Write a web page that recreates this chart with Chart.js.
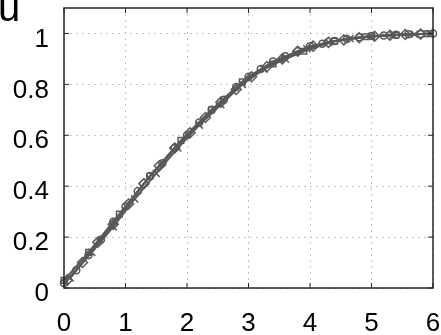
<!DOCTYPE html>
<html>
<head>
<meta charset="utf-8">
<script src="https://cdn.jsdelivr.net/npm/chart.js@4.4.1/dist/chart.umd.min.js"></script>
<style>
  html, body { margin: 0; padding: 0; background: #fff; }
  #wrap { width: 441px; height: 335px; position: relative; }
</style>
</head>
<body>
<div id="wrap"><canvas id="uChart"></canvas></div>
<script>
// series
const xCircle = [0, 0.2, 0.4, 0.6, 0.8, 1.0, 1.2, 1.4, 1.6, 1.8, 2.0, 2.2, 2.4, 2.6, 2.8, 3.0,
                 3.2, 3.4, 3.6, 3.8, 4.0, 4.2, 4.4, 4.6, 4.8, 5.0, 5.2, 5.4, 5.6, 5.8, 6.0];
const uCircle = [0.02, 0.07, 0.13, 0.19, 0.26, 0.32, 0.38, 0.44, 0.49, 0.55, 0.60, 0.65, 0.70, 0.74, 0.79, 0.83,
                 0.86, 0.89, 0.91, 0.93, 0.95, 0.96, 0.97, 0.978, 0.985, 0.99, 0.992, 0.995, 0.997, 0.998, 1.0];

const xDiamond = [0.05, 0.3, 0.55, 0.8, 1.05, 1.3, 1.55, 1.8, 2.05, 2.3, 2.55, 2.8, 3.05, 3.3,
                  3.55, 3.8, 4.05, 4.3, 4.55, 4.8, 5.05, 5.3, 5.55, 5.8];
const uDiamond = [0.03, 0.10, 0.18, 0.25, 0.33, 0.41, 0.48, 0.55, 0.61, 0.67, 0.73, 0.78, 0.83, 0.87,
                  0.90, 0.93, 0.95, 0.965, 0.975, 0.983, 0.989, 0.993, 0.996, 0.998];

const xCross = [0.1, 0.45, 0.8, 1.15, 1.5, 1.85, 2.2, 2.55, 2.9, 3.25, 3.6, 3.95, 4.3,
                4.65, 5.0, 5.35, 5.7, 5.95];
const uCross = [0.04, 0.14, 0.24, 0.35, 0.45, 0.55, 0.64, 0.72, 0.80, 0.86, 0.90, 0.94, 0.965,
                0.98, 0.988, 0.994, 0.997, 1.0];

const xSquare = [0.0, 0.4, 0.9, 1.4, 1.9, 2.4, 2.9, 3.4, 3.9, 4.4, 4.9, 5.4, 5.9];
const uSquare = [0.03, 0.14, 0.29, 0.44, 0.58, 0.70, 0.81, 0.88, 0.93, 0.97, 0.987, 0.994, 0.999];

const xTicks = [0, 1, 2, 3, 4, 5, 6];
const yTicks = [0, 0.2, 0.4, 0.6, 0.8, 1];

const lineColor = '#585858';
const fontFamily = '"Liberation Sans", Arial, sans-serif';

function toPoints(xs, ys) {
    return xs.map((x, i) => ({ x: x, y: ys[i] }));
}

function makeSet(xs, ys, style, radius) {
    return {
        data: toPoints(xs, ys),
        borderColor: lineColor,
        backgroundColor: 'rgba(0,0,0,0)',
        borderWidth: 2,
        pointStyle: style,
        pointRadius: radius,
        pointBorderColor: lineColor,
        pointBackgroundColor: 'rgba(0,0,0,0)',
        pointBorderWidth: 1.5,
        tension: 0,
        clip: false
    };
}

// box frame with inward ticks on all four sides, plus the "u" label
const frame = {
    id: 'frame',
    afterDraw(chart) {
        const { ctx, chartArea: a, scales } = chart;
        ctx.save();
        ctx.strokeStyle = '#262626';
        ctx.lineWidth = 1.5;
        ctx.strokeRect(a.left, a.top, a.right - a.left, a.bottom - a.top);
        ctx.lineWidth = 1;
        const t = 5;
        xTicks.forEach(v => {
            const px = scales.x.getPixelForValue(v);
            ctx.beginPath();
            ctx.moveTo(px, a.bottom); ctx.lineTo(px, a.bottom - t);
            ctx.moveTo(px, a.top); ctx.lineTo(px, a.top + t);
            ctx.stroke();
        });
        yTicks.forEach(v => {
            const py = scales.y.getPixelForValue(v);
            ctx.beginPath();
            ctx.moveTo(a.left, py); ctx.lineTo(a.left + t, py);
            ctx.moveTo(a.right, py); ctx.lineTo(a.right - t, py);
            ctx.stroke();
        });
        ctx.fillStyle = '#000';
        ctx.font = '40px ' + fontFamily;
        ctx.textBaseline = 'alphabetic';
        ctx.textAlign = 'left';
        ctx.fillText('u', -2, 21);
        ctx.restore();
    }
};

function noEdgePadding(scale) {
    scale.paddingTop = 0;
    scale.paddingBottom = 0;
    scale.paddingLeft = 0;
    scale.paddingRight = 0;
}

const ctx = document.getElementById('uChart').getContext('2d');
new Chart(ctx, {
    type: 'line',
    data: {
        datasets: [
            makeSet(xCircle, uCircle, 'circle', 3.5),
            makeSet(xDiamond, uDiamond, 'rectRot', 5),
            makeSet(xCross, uCross, 'crossRot', 5),
            makeSet(xSquare, uSquare, 'rect', 4)
        ]
    },
    options: {
        responsive: true,
        maintainAspectRatio: false,
        animation: false,
        layout: { padding: { left: 12, right: 8, top: 8, bottom: 0 } },
        scales: {
            x: {
                type: 'linear',
                min: 0,
                max: 6,
                afterBuildTicks: scale => {
                    scale.ticks = xTicks.map(v => ({ value: v }));
                },
                afterFit: scale => {
                    scale.height = 47;
                    noEdgePadding(scale);
                },
                ticks: {
                    color: '#000',
                    padding: 20,
                    font: { family: fontFamily, size: 26 },
                    maxRotation: 0,
                    autoSkip: false,
                    callback: v => String(v)
                },
                grid: { color: '#c4c4c4', drawTicks: false, lineWidth: 1 },
                border: { display: false, dash: [2, 4] }
            },
            y: {
                type: 'linear',
                min: 0,
                max: 1.1,
                afterBuildTicks: scale => {
                    scale.ticks = yTicks.map(v => ({ value: v }));
                },
                afterFit: scale => {
                    scale.width = 52;
                    noEdgePadding(scale);
                },
                ticks: {
                    color: '#000',
                    padding: 15,
                    labelOffset: 6,
                    autoSkip: false,
                    font: { family: fontFamily, size: 26 },
                    callback: v => String(v)
                },
                grid: { color: '#c4c4c4', drawTicks: false, lineWidth: 1 },
                border: { display: false, dash: [2, 4] }
            }
        },
        plugins: {
            legend: { display: false },
            tooltip: { enabled: false }
        }
    },
    plugins: [frame]
});
</script>
</body>
</html>
